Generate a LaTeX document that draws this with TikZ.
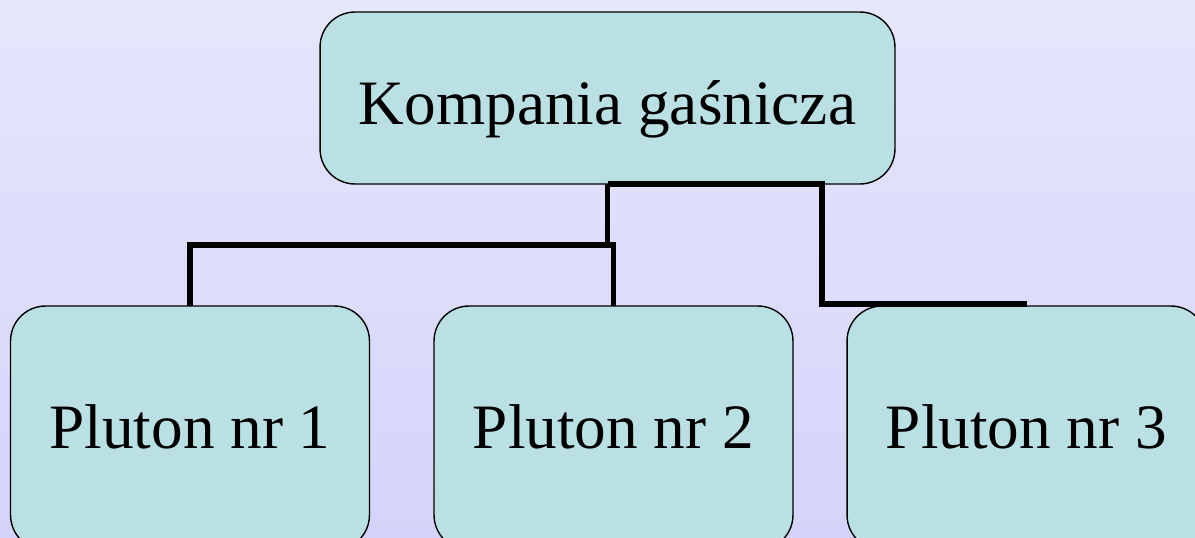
\documentclass[tikz,border=0pt]{standalone}
\usepackage{fontspec}
\setmainfont{Liberation Serif}
\usepackage{tikz}

\begin{document}
\begin{tikzpicture}[x=0.02cm, y=-0.02cm,
    unitbox/.style={draw=black, line width=0.8pt, fill=boxcolor, rounded corners=0.7cm,
        inner sep=0pt, outer sep=0pt, align=center, font=\fontsize{36}{43}\selectfont},
    plutonbox/.style={unitbox, minimum width=7.18cm, minimum height=4.88cm,
        text height=0.8cm, text depth=0pt},
    link/.style={draw=black, line width=2.9pt}]
    % Colors
    \definecolor{boxcolor}{RGB}{186,224,227}
    \definecolor{bgtop}{RGB}{230,230,252}
    \definecolor{bgbottom}{RGB}{212,212,250}

    % Page
    \useasboundingbox (0,0) rectangle (1195,537);
    \clip (0,0) rectangle (1195,537);
    \shade[top color=bgtop, bottom color=bgbottom] (0,0) rectangle (1195,537);

    % Link bends
    \coordinate (fork) at (607.5,245);
    \coordinate (bend3) at (822,304);

    % Boxes
    \node[unitbox, minimum width=11.5cm, minimum height=3.44cm,
        text height=1.08cm, text depth=0pt] (kompania) at (607.5,98) {Kompania gaśnicza};
    \node[plutonbox] (pluton1) at (190,428) {Pluton nr 1};
    \node[plutonbox] (pluton2) at (613.5,428) {Pluton nr 2};
    \node[plutonbox] (pluton3) at (1026.5,428) {Pluton nr 3};

    % Links
    \draw[link] (kompania.south) -- (fork) -| (pluton1.north);
    \draw[link] (kompania.south) -- (fork) -| (pluton2.north);
    \draw[link] (kompania.south) -| (bend3) -- (bend3 -| pluton3.north);
\end{tikzpicture}
\end{document}
